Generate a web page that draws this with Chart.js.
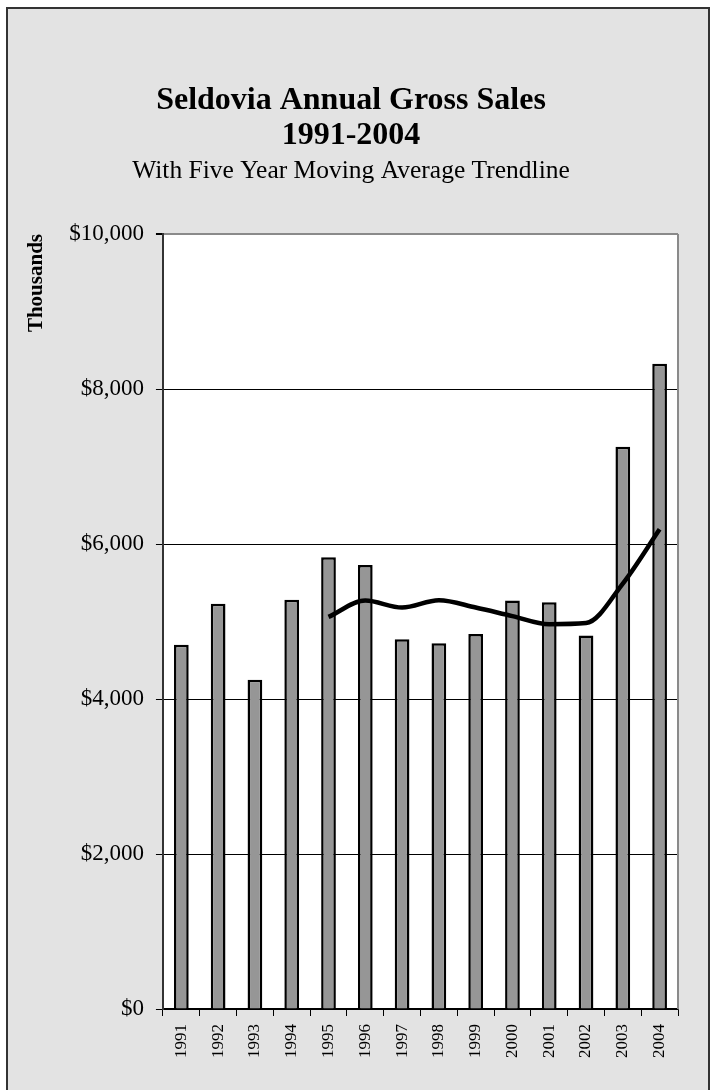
<!DOCTYPE html>
<html>
<head>
<meta charset="utf-8">
<script src="https://cdn.jsdelivr.net/npm/chart.js@4.4.1/dist/chart.umd.min.js"></script>
<style>
  body { margin: 0; background: #fff; }
  #marco {
    position: absolute; left: 6px; top: 7px; width: 700px; height: 1100px;
    background: #e3e3e3; border: 2px solid #333; border-bottom: none;
  }
  #grafico { display: block; }
</style>
</head>
<body>
<div id="marco"><canvas id="grafico" width="700" height="1083"></canvas></div>
<script>
// datos (miles de dolares)
var anios = ['1991','1992','1993','1994','1995','1996','1997','1998','1999','2000','2001','2002','2003','2004'];
var ventas = [4700, 5230, 4250, 5280, 5830, 5730, 4770, 4720, 4840, 5270, 5250, 4820, 7255, 8325];
var promedio = [null, null, null, null, 5060, 5270, 5180, 5275, 5180, 5070, 4965, 4980, 5490, 6190];
var marcasY = [0, 2000, 4000, 6000, 8000, 10000];

var fuente = 'Liberation Serif';

var fondoPlot = {
    id: 'fondoPlot',
    beforeDraw: function(chart){
        var a = chart.chartArea, c = chart.ctx;
        c.save();
        c.fillStyle = '#fff';
        c.fillRect(a.left, a.top, a.right - a.left, a.bottom - a.top);
        c.restore();
    },
    afterDraw: function(chart){
        var a = chart.chartArea, c = chart.ctx;
        c.save();
        c.strokeStyle = '#8a8a8a';
        c.lineWidth = 2;
        c.beginPath();
        c.moveTo(a.right, a.top);
        c.lineTo(a.right, a.bottom);
        c.stroke();
        c.restore();
    }
};

new Chart(document.getElementById('grafico'), {
    data: {
        labels: anios,
        datasets: [{
            type: 'line',
            data: promedio,
            borderColor: '#000',
            borderWidth: 4.5,
            pointRadius: 0,
            cubicInterpolationMode: 'monotone',
            order: 0
        },{
            type: 'bar',
            data: ventas,
            backgroundColor: '#969696',
            borderColor: '#000',
            borderWidth: 2.5,
            categoryPercentage: 1,
            barPercentage: 0.40,
            order: 1
        }]
    },
    options: {
        responsive: false,
        animation: false,
        devicePixelRatio: 1,
        layout: { padding: { left: 16, right: 30, bottom: 26 } },
        plugins: {
            legend: { display: false },
            tooltip: { enabled: false },
            title: {
                display: true,
                text: ['Seldovia Annual Gross Sales', '1991-2004'],
                color: '#000',
                font: { family: fuente, size: 32, weight: 'bold', lineHeight: 1.1 },
                padding: { top: 74, bottom: 0 }
            },
            subtitle: {
                display: true,
                text: 'With Five Year Moving Average Trendline',
                color: '#000',
                font: { family: fuente, size: 25.5, lineHeight: 1.2 },
                padding: { top: 3, bottom: 47 }
            }
        },
        scales: {
            x: {
                grid: { offset: true, drawOnChartArea: false, tickLength: 7, color: '#000', lineWidth: 1 },
                border: { color: '#000', width: 1.5 },
                ticks: { color: '#000', font: { family: fuente, size: 17 }, minRotation: 90, maxRotation: 90, padding: 8 }
            },
            y: {
                min: 0,
                max: 10000,
                afterBuildTicks: function(axis){
                    axis.ticks = marcasY.map(function(v){ return { value: v }; });
                },
                grid: {
                    tickLength: 7,
                    color: function(ctx){ return ctx.tick && ctx.tick.value === 10000 ? '#8a8a8a' : '#000'; },
                    lineWidth: function(ctx){ return ctx.tick && ctx.tick.value === 10000 ? 2 : 1; },
                    tickColor: '#000'
                },
                border: { color: '#333', width: 2 },
                ticks: {
                    color: '#000',
                    padding: 12,
                    font: { family: fuente, size: 23 },
                    callback: function(v){ return '$' + v.toLocaleString('en-US'); }
                },
                title: {
                    display: true,
                    text: 'Thousands',
                    align: 'end',
                    color: '#000',
                    font: { family: fuente, size: 21, weight: 'bold' },
                    padding: { top: 0, bottom: 8 }
                }
            }
        }
    },
    plugins: [fondoPlot]
});
</script>
</body>
</html>
